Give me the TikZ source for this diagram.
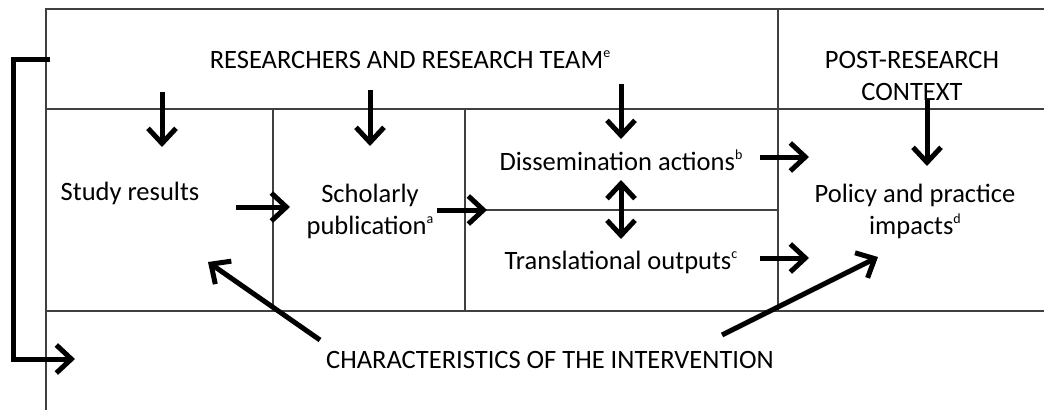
\documentclass[tikz,border=0pt]{standalone}
\usepackage{fontspec}
\setmainfont{Carlito}
\usetikzlibrary{arrows.meta}
\newcommand{\fnmark}[1]{\raisebox{11pt}{\fontsize{14}{14}\selectfont #1}}

\begin{document}
\begin{tikzpicture}
    [
    x=1pt, y=-1pt,
    every node/.style={font=\fontsize{26.5}{32}\selectfont, align=center, inner sep=0pt},
    grid/.style={draw=black!75, line width=1.3pt},
    flow/.style={draw, line width=5pt, -{Straight Barb[length=15pt,width=28pt]}},
    twoway/.style={flow, {Straight Barb[length=15pt,width=28pt]}-{Straight Barb[length=15pt,width=28pt]}}
    ]
    \useasboundingbox (0,0) rectangle (1044,410);

    \draw[grid] (1044,9) -- (46,9) -- (46,410);
    \draw[grid] (46,109) -- (1044,109);
    \draw[grid] (46,311) -- (1044,311);
    \draw[grid] (273,109) -- (273,311);
    \draw[grid] (465,109) -- (465,311);
    \draw[grid] (465,210) -- (778,210);
    \draw[grid] (778,9) -- (778,311);

    \node (team) at (410,60) {RESEARCHERS AND RESEARCH TEAM\fnmark{e}};
    \node (post) at (912,76) {POST-RESEARCH\\CONTEXT};
    \node (results) at (130,193) {Study results};
    \node (scholarly) at (370,211) {Scholarly\\publication\fnmark{a}};
    \node (dissem) at (621,160) {Dissemination actions\fnmark{b}};
    \node (transl) at (621,262) {Translational outputs\fnmark{c}};
    \node (impacts) at (915,211) {Policy and practice\\impacts\fnmark{d}};
    \node (interv) at (550,360) {CHARACTERISTICS OF THE INTERVENTION};

    \coordinate (team-1) at (162,92);   \coordinate (results-in) at (162,147);
    \coordinate (team-2) at (370,90);   \coordinate (scholarly-in) at (370,146);
    \coordinate (team-3) at (621,84);   \coordinate (dissem-in) at (621,139);
    \coordinate (post-out) at (927,100); \coordinate (impacts-in) at (927,166);
    \coordinate (results-out) at (236,207); \coordinate (scholarly-l) at (290,207);
    \coordinate (scholarly-out) at (437,210); \coordinate (split) at (487,210);
    \coordinate (dissem-out) at (760,157); \coordinate (impacts-b) at (809,157);
    \coordinate (transl-out) at (760,258); \coordinate (impacts-c) at (809,258);
    \coordinate (dissem-low) at (621,180); \coordinate (transl-up) at (621,239);
    \coordinate (interv-l) at (320,340); \coordinate (results-low) at (208,262);
    \coordinate (interv-r) at (722,335); \coordinate (impacts-low) at (878,257);
    \coordinate (loop-top) at (50,59);  \coordinate (loop-end) at (75,359);

    \draw[flow] (team-1) -- (results-in);
    \draw[flow] (team-2) -- (scholarly-in);
    \draw[flow] (team-3) -- (dissem-in);
    \draw[flow] (post-out) -- (impacts-in);
    \draw[flow] (results-out) -- (scholarly-l);
    \draw[flow] (scholarly-out) -- (split);
    \draw[flow] (dissem-out) -- (impacts-b);
    \draw[flow] (transl-out) -- (impacts-c);
    \draw[twoway] (dissem-low) -- (transl-up);
    \draw[flow] (interv-l) -- (results-low);
    \draw[flow] (interv-r) -- (impacts-low);
    \draw[flow] (loop-top) -| (13,359) -- (loop-end);
\end{tikzpicture}
\end{document}
